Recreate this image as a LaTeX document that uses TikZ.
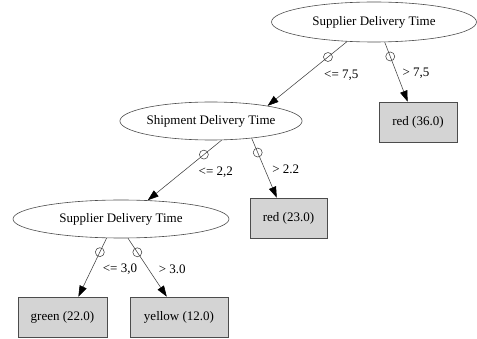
\documentclass[tikz,border=0pt]{standalone}
\usepackage{fontspec}
\setmainfont{Liberation Serif}
\usetikzlibrary{arrows.meta, shapes.geometric}

\begin{document}
\begin{tikzpicture}[
  x=1pt,
  y=1pt,
  font=\fontsize{13}{15}\selectfont,
  split/.style={draw=black!70, ellipse, line width=0.6pt, inner sep=0pt,
    minimum height=38pt},
  leaf/.style={draw=black!70, fill=black!17, line width=0.6pt, inner sep=0pt,
    minimum height=40pt},
  edge/.style={draw=black!75, line width=0.55pt,
    -{Triangle[length=11pt, width=7.5pt, black]}},
  tailmark/.style={pos=0.24, circle, draw=black!75, line width=0.55pt,
    inner sep=0pt, minimum size=9pt},
  elab/.style={pos=0.53, anchor=west, inner sep=0pt}
]
  \useasboundingbox (0,0) rectangle (477,-339);

  % Split nodes of the decision tree.
  \node[split, minimum width=205pt, minimum height=40pt] at (374,-22)  (root)   {Supplier Delivery Time};
  \node[split, minimum width=154pt] at (211,-121)                      (ship)   {Shipment Delivery Time};
  \node[split, minimum width=216pt] at (121,-219)                      (supply) {Supplier Delivery Time};

  % Leaves with class and weight.
  \node[leaf, minimum width=78pt] at (418,-122)    (redA)   {red (36.0)};
  \node[leaf, minimum width=77pt] at (288.5,-218)  (redB)   {red (23.0)};
  \node[leaf, minimum width=89pt] at (62.5,-317)   (green)  {green (22.0)};
  \node[leaf, minimum width=98pt] at (179,-317)    (yellow) {yellow (12.0)};

  % Branches, each with its threshold.
  \draw[edge] (root.216)   -- node[tailmark] (mA) {} node[elab, xshift=19pt]  (lA) {<= 7,5} (ship.15);
  \draw[edge] (root.298)   -- node[tailmark] (mB) {} node[elab, xshift=5.5pt] (lB) {> 7,5}  (redA.117);
  \draw[edge] (ship.299)   -- node[tailmark] (mC) {} node[elab, xshift=16pt]  (lC) {<= 2,2} (supply.35);
  \draw[edge] (ship.337)   -- node[tailmark] (mD) {} node[elab, xshift=7pt]   (lD) {> 2.2}  (redB.120);
  \draw[edge] (supply.233) -- node[tailmark] (mE) {} node[elab, xshift=11pt]  (lE) {<= 3,0} (green.52);
  \draw[edge] (supply.290) -- node[tailmark] (mF) {} node[elab, xshift=10pt]  (lF) {> 3.0}  (yellow.121);

\end{tikzpicture}
\end{document}
